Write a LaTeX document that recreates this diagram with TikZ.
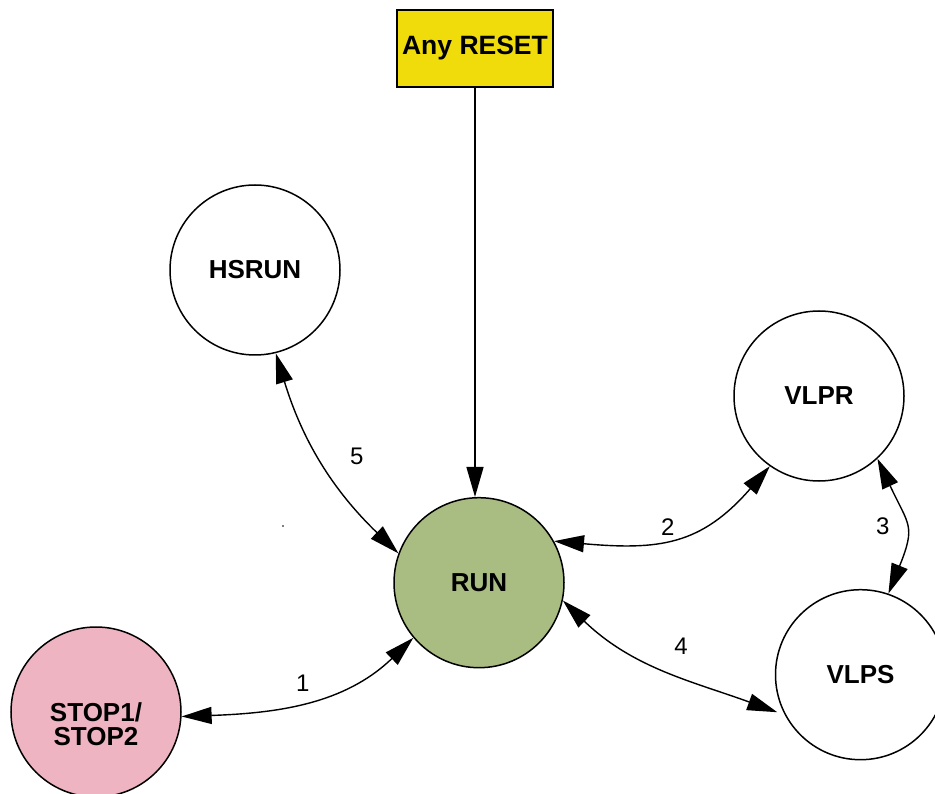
\documentclass[tikz,border=0pt]{standalone}
\usepackage{fontspec}
\setmainfont{Liberation Sans}
\usetikzlibrary{arrows.meta}
\definecolor{resetyellow}{RGB}{240,220,10}
\definecolor{rungreen}{RGB}{169,188,130}
\definecolor{stoppink}{RGB}{239,180,194}
\begin{document}
\begin{tikzpicture}[x=1pt,y=1pt,
  state/.style={circle,draw=black,line width=1.5pt,minimum size=170pt,inner sep=0pt,
    font=\fontsize{26}{23.5}\selectfont\bfseries,align=center},
  resetbox/.style={rectangle,draw=black,line width=1.5pt,fill=resetyellow,
    minimum width=156pt,minimum height=77pt,inner sep=0pt,
    font=\fontsize{26.5}{26}\selectfont\bfseries},
  conn/.style={line width=1.4pt,{Triangle[length=30pt,width=17pt]}-{Triangle[length=30pt,width=17pt]}},
  oneway/.style={line width=1.4pt,-{Triangle[length=30pt,width=17pt]}},
  lbl/.style={font=\fontsize{24}{24}\selectfont,inner sep=0pt}
]
\useasboundingbox (0,0) rectangle (935,-794);

% nodes
\node[resetbox] (RESET) at (475,-48.5) {Any RESET};
\node[state] (HSRUN) at (255,-270) {HSRUN};
\node[state] (VLPR) at (819,-396) {VLPR};
\node[state,fill=rungreen] (RUN) at (479,-582.7) {RUN};
\node[state] (VLPS) at (860.5,-674.7) {VLPS};
\node[state,fill=stoppink] (STOP) at (96,-712) {\rule{0pt}{43pt}STOP1/\\STOP2};

% connectors
\draw[oneway] (RESET.south) -- (RESET.south |- RUN.north);
\draw[conn] (HSRUN.-76) to[out=-73,in=136] (RUN.160);
\draw[conn] (RUN.29) to[out=-5,in=-131,distance=105pt] (VLPR.-125);
\draw[conn] (VLPR.-47) to[out=-65,in=68,looseness=1.4] (VLPS.71);
\draw[conn,shorten >=8pt] (RUN.-12) to[out=-44,in=160] (VLPS.-152);
\draw[conn] (RUN.-140) to[out=-136,in=2] (STOP.-3);

% labels
\node[lbl] (L5) at (356.7,-456.7) {5};
\node[lbl] (L2) at (667.7,-526.7) {2};
\node[lbl] (L3) at (882.7,-526) {3};
\node[lbl] (L4) at (681,-646.5) {4};
\node[lbl] (L1) at (302.7,-683.3) {1};

% stray dot
\fill[gray] (282,-525) rectangle (284,-527);
\end{tikzpicture}
\end{document}
